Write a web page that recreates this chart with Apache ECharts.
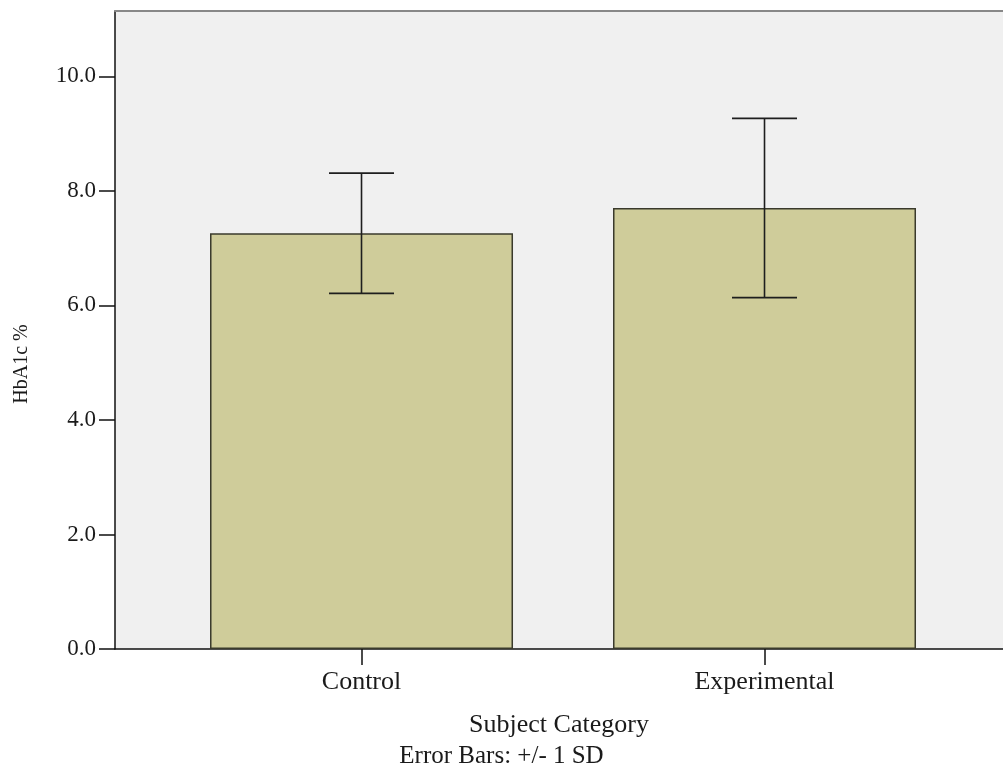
<!DOCTYPE html>
<html>
<head>
<meta charset="utf-8">
<script src="https://cdn.jsdelivr.net/npm/echarts@6/dist/echarts.min.js"></script>
<style>
  html, body { margin: 0; padding: 0; background: #ffffff; }
  #chart { width: 1003px; height: 784px; }
</style>
</head>
<body>
<div id="chart"></div>
<script>
// HbA1c by subject category, mean with +/- 1 SD error bars
const categories = ['Control', 'Experimental'];
const meanValues = [7.26, 7.70];
const sdValues = [1.05, 1.565];
const yTicks = [0, 2, 4, 6, 8, 10];

const FONT = '"Liberation Serif", "DejaVu Serif", serif';
const positions = categories.map((c, i) => i + 1);

const barData = positions.map((p, i) => [p, meanValues[i]]);
const errData = positions.map((p, i) => [p, meanValues[i] - sdValues[i], meanValues[i] + sdValues[i]]);

const chart = echarts.init(document.getElementById('chart'), null, { renderer: 'canvas' });

chart.setOption({
  animation: false,
  backgroundColor: '#ffffff',
  grid: {
    left: 115, right: 0, top: 11, bottom: 135,
    show: true, backgroundColor: '#f0f0f0', borderWidth: 0
  },
  xAxis: [{
    type: 'value',
    min: 0.3883, max: 2.5918,
    name: 'Subject Category',
    nameLocation: 'middle',
    nameGap: 63,
    nameTextStyle: { fontFamily: FONT, fontSize: 26, color: '#1a1a1a' },
    axisLine: { show: true, onZero: false, lineStyle: { color: '#111', width: 1.5 } },
    axisTick: { show: true, length: 16, customValues: positions, lineStyle: { color: '#111', width: 1.5 } },
    axisLabel: {
      customValues: positions,
      formatter: v => categories[Math.round(v) - 1] || '',
      fontFamily: FONT, fontSize: 26, color: '#1a1a1a', margin: 20
    },
    splitLine: { show: false }
  }, {
    // thin grey frame line along the top of the plot
    type: 'value',
    position: 'top',
    min: 0.3883, max: 2.5918,
    axisLine: { show: true, onZero: false, lineStyle: { color: '#888', width: 2 } },
    axisTick: { show: false },
    axisLabel: { show: false },
    splitLine: { show: false }
  }],
  yAxis: {
    type: 'value',
    min: 0, max: 11.14,
    axisLine: { show: true, lineStyle: { color: '#111', width: 1.5 } },
    axisTick: { show: true, length: 16, customValues: yTicks, lineStyle: { color: '#111', width: 1.5 } },
    axisLabel: {
      customValues: yTicks,
      formatter: v => v.toFixed(1),
      fontFamily: FONT, fontSize: 23, color: '#1a1a1a', margin: 19
    },
    splitLine: { show: false }
  },
  graphic: [{
    type: 'text',
    x: 22, y: 364,
    rotation: Math.PI / 2,
    style: {
      text: 'HbA1c %', fontFamily: FONT, fontSize: 20, fill: '#1a1a1a',
      align: 'center', verticalAlign: 'middle'
    }
  }, {
    type: 'text',
    left: 'center',
    top: 744,
    style: { text: 'Error Bars: +/- 1 SD', fontFamily: FONT, fontSize: 25, fill: '#1a1a1a' }
  }],
  series: [{
    type: 'bar',
    xAxisIndex: 0,
    data: barData,
    barWidth: 303,
    itemStyle: { color: '#cfcc9a', borderColor: '#3a3a2c', borderWidth: 1.5 },
    z: 2
  }, {
    type: 'custom',
    xAxisIndex: 0,
    data: errData,
    z: 5,
    renderItem: function (params, api) {
      const x = api.value(0);
      const lo = api.coord([x, api.value(1)]);
      const hi = api.coord([x, api.value(2)]);
      const half = 32.5;
      const style = { stroke: '#1e1e1e', lineWidth: 1.6 };
      return {
        type: 'group',
        children: [
          { type: 'line', shape: { x1: hi[0], y1: hi[1], x2: lo[0], y2: lo[1] }, style },
          { type: 'line', shape: { x1: hi[0] - half, y1: hi[1], x2: hi[0] + half, y2: hi[1] }, style },
          { type: 'line', shape: { x1: lo[0] - half, y1: lo[1], x2: lo[0] + half, y2: lo[1] }, style }
        ]
      };
    }
  }]
});
</script>
</body>
</html>
